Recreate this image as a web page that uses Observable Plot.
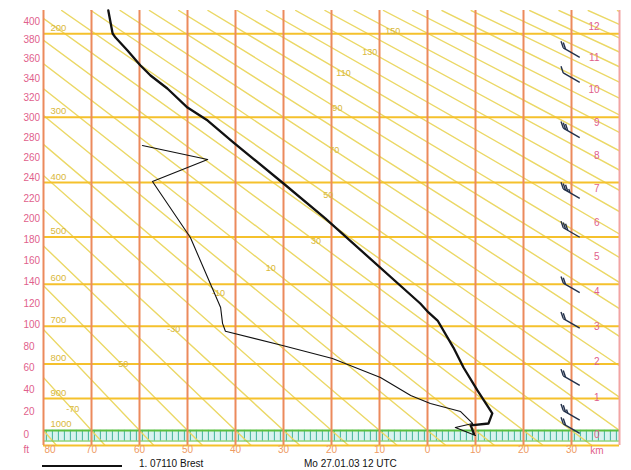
<!DOCTYPE html>
<html><head><meta charset="utf-8">
<script src="https://cdn.jsdelivr.net/npm/d3@7"></script>
<script src="https://cdn.jsdelivr.net/npm/@observablehq/plot@0.6"></script>
<style>
body{margin:0;background:#fff;font-family:"Liberation Sans",Arial,sans-serif}
#legend{position:relative;width:631px;height:12px;font:10px "Liberation Sans",Arial,sans-serif;color:#111}
#legend span{position:absolute;top:0;line-height:12px;white-space:nowrap}
</style></head><body>
<div id="chart"></div>
<div id="legend">
  <div style="position:absolute;left:42px;top:7px;width:80px;height:2px;background:#111"></div>
  <span id="st" style="left:139px"></span>
  <span id="dt" style="left:304px"></span>
</div>
<script>
// ---------- data ----------
const stationLabel = "1. 07110 Brest";
const dateLabel = "Mo 27.01.03 12 UTC";
const KAPPA = 0.286;
const tempDomain = [-80, 40];
const presDomain = [1050, 177];

const isotherms = [-80,-70,-60,-50,-40,-30,-20,-10,0,10,20,30];
const isothermLabels = ["80","70","60","50","40","30","20","10","0","10","20","30"];
const isobars = [200,300,400,500,600,700,800,900];
const isobarLabels = ["200","300","400","500","600","700","800","900"];
const groundTop = 1000, groundBottom = 1035, frameBottom = 1050;

const adiabats = [-80,-70,-60,-50,-40,-30,-20,-10,0,10,20,30,40,50,60,70,80,90,100,110,120,130,140,150,160,170,180,190,200,210,220,230,240];
const adiabatLabelTheta = [-70,-50,-30,-10,10,30,50,70,90,110,130,150];
const adiabatLabelP     = [934,801,708,621,565,509,422,348,288,243,219,197];

const flightLevels = [0,20,40,60,80,100,120,140,160,180,200,220,240,260,280,300,320,340,360,380,400];
const kmLevels = [0,1,2,3,4,5,6,7,8,9,10,11,12];

const tempP = [177,199.7,203.9,217.8,234.6,246.4,262.3,286.9,304.6,336.3,401.6,464,644.6,666,686,755.5,810,876,946,977.7,984,1012];
const tempT = [-66.5,-65.6,-65.0,-62.5,-59.8,-57.7,-54.2,-50.0,-45.8,-40.4,-30.0,-21.3,-1.5,0.2,2.1,5.4,7.5,10.4,13.5,12.7,9.0,9.7];

const dewP = [340.8,362.4,398.3,500.9,654,693,713,750,785,838,891,915,940,977.7,990.7,1016.6];
const dewT = [-59.4,-45.8,-57.3,-49.4,-43.1,-42.7,-42.1,-30.2,-19.8,-9.8,-3.5,0.6,6.9,9.4,5.8,10.0];

const windP   = [220,249,322,419,491,608,693,847,952,994];
const windDir = [300,300,300,300,300,300,300,300,300,300];
const windKt  = [20,10,30,35,30,20,20,20,25,20];
const windStationT = 30;

// ---------- helpers ----------
function isaP(z){ // standard atmosphere pressure (hPa) at height z (m)
  return z <= 11000 ? 1013.25*Math.pow(1 - 0.0065*z/288.15, 5.25588)
                    : 226.32*Math.exp(-(z-11000)/6341.62);
}
const W = 631, H = 458, mL = 43, mR = 12, mT = 10, mB = 13;
const sx = d3.scaleLinear().domain(tempDomain).range([mL, W - mR]);
const sy = d3.scalePow().exponent(KAPPA).domain(presDomain).range([H - mB, mT]);
const thetaT = (th, p) => (th + 273.15)*Math.pow(p/1000, KAPPA) - 273.15;

const adiabatData = adiabats.flatMap(th => [
  {th, p: presDomain[0], T: thetaT(th, presDomain[0])},
  {th, p: presDomain[1], T: thetaT(th, presDomain[1])}
]);
const adiabatLabels = adiabatLabelTheta.map((th,i) => ({th, p: adiabatLabelP[i], T: thetaT(th, adiabatLabelP[i])}));
const tempData = tempP.map((p,i) => ({p, T: tempT[i]}));
const dewData = dewP.map((p,i) => ({p, T: dewT[i]}));
const hatchStep = 1.25;
const hatch = d3.range(tempDomain[0] + 0.6, tempDomain[1], hatchStep);

// wind barbs in pixel space, mapped back through the scales
const barbSegs = [];
windP.forEach((p,i) => {
  const cx = sx(windStationT), cy = sy(p);
  const a = windDir[i]*Math.PI/180;
  const ux = Math.sin(a), uy = -Math.cos(a);
  const L = 19;
  const s0 = [cx - ux*L/2, cy - uy*L/2], tip = [cx + ux*L/2, cy + uy*L/2];
  const seg = (A,B) => barbSegs.push({x1: sx.invert(A[0]), y1: sy.invert(A[1]), x2: sx.invert(B[0]), y2: sy.invert(B[1])});
  seg(s0, tip);
  const px = -uy, py = ux, ca = Math.cos(0.85), sa = Math.sin(0.85);
  let spd = windKt[i], pos = 0;
  while (spd >= 10) {
    const b = [tip[0] - ux*pos, tip[1] - uy*pos];
    seg(b, [b[0] + 7*(px*ca + ux*sa), b[1] + 7*(py*ca + uy*sa)]);
    pos += 2.6; spd -= 10;
  }
  if (spd >= 5) {
    const b = [tip[0] - ux*pos, tip[1] - uy*pos];
    seg(b, [b[0] + 4*(px*ca + ux*sa), b[1] + 4*(py*ca + uy*sa)]);
  }
});

const pink = "#df5f8c", iso = "#ec8a5c", bar = "#f5c12c", adi = "#ebd866", adiTxt = "#d9b83c";

const chart = Plot.plot({
  width: W, height: H, marginLeft: mL, marginRight: mR, marginTop: mT, marginBottom: mB,
  style: {fontFamily: "Liberation Sans, Arial, sans-serif", fontSize: "10px", background: "white", overflow: "visible"},
  x: {type: "linear", domain: tempDomain, axis: null},
  y: {type: "pow", exponent: KAPPA, domain: presDomain, axis: null},
  marks: [
    // ground band
    Plot.rect([{}], {x1: tempDomain[0], x2: tempDomain[1], y1: groundTop, y2: groundBottom, fill: "#d8f3ef"}),
    Plot.ruleX(hatch, {y1: groundTop, y2: groundBottom, stroke: "#3fb39a", strokeWidth: 1}),
    // dry adiabats
    Plot.line(adiabatData, {x: "T", y: "p", z: "th", stroke: adi, strokeWidth: 1.4, clip: true}),
    // isobars
    Plot.ruleY(isobars, {x1: tempDomain[0], x2: tempDomain[1], stroke: bar, strokeWidth: 2}),
    Plot.ruleY([frameBottom], {x1: tempDomain[0], x2: tempDomain[1], stroke: bar, strokeWidth: 2}),
    Plot.ruleY([groundTop], {x1: tempDomain[0], x2: tempDomain[1], stroke: "#5bbf3f", strokeWidth: 2}),
    Plot.ruleY([groundBottom], {x1: tempDomain[0], x2: tempDomain[1], stroke: "#5bbf3f", strokeWidth: 1}),
    // isotherms
    Plot.ruleX(isotherms, {y1: presDomain[0], y2: presDomain[1], stroke: iso, strokeWidth: 2}),
    Plot.ruleX([tempDomain[1]], {y1: presDomain[0], y2: presDomain[1], stroke: "#f2a4a4", strokeWidth: 2}),
    // labels
    Plot.text(isobars, {frameAnchor: "left", y: d => d, text: (d,i) => isobarLabels[i], dx: 7, dy: -6, textAnchor: "start", fill: adiTxt, fontSize: 9.5}),
    Plot.text([groundTop], {frameAnchor: "left", y: d => d, text: d => String(d), dx: 7, dy: -6, textAnchor: "start", fill: adiTxt, fontSize: 9.5}),
    Plot.text(adiabatLabels, {x: "T", y: "p", text: d => String(d.th), fill: adiTxt, fontSize: 9}),
    Plot.text(flightLevels, {frameAnchor: "left", y: d => isaP(d*30.48), text: d => String(d), dx: -20, fill: pink, fontSize: 10}),
    Plot.text(["ft"], {frameAnchor: "bottom-left", text: d => d, dx: -20, dy: 7, fill: pink, fontSize: 10}),
    Plot.text(kmLevels, {frameAnchor: "right", y: d => isaP(d*1000), text: d => String(d), dx: -20, fill: pink, fontSize: 10}),
    Plot.text(["km"], {frameAnchor: "bottom-right", text: d => d, dx: -16, dy: 8, fill: pink, fontSize: 10}),
    Plot.text(isotherms.slice(0,1), {x: d => d, frameAnchor: "bottom", text: (d,i) => isothermLabels[0], dx: 1, dy: 7, textAnchor: "start", fill: "#ee9a62", fontSize: 10}),
    Plot.text(isotherms.slice(1), {x: d => d, frameAnchor: "bottom", text: (d,i) => isothermLabels[i+1], dy: 7, fill: "#ee9a62", fontSize: 10}),
    // wind barbs
    Plot.link(barbSegs, {x1: "x1", y1: "y1", x2: "x2", y2: "y2", stroke: "#22304a", strokeWidth: 1.4}),
    // profiles
    Plot.line(dewData, {x: "T", y: "p", stroke: "#111", strokeWidth: 1.1}),
    Plot.line(tempData, {x: "T", y: "p", stroke: "#111", strokeWidth: 2.3})
  ]
});
document.getElementById("chart").append(chart);
document.getElementById("st").textContent = stationLabel;
document.getElementById("dt").textContent = dateLabel;
</script>
</body></html>
